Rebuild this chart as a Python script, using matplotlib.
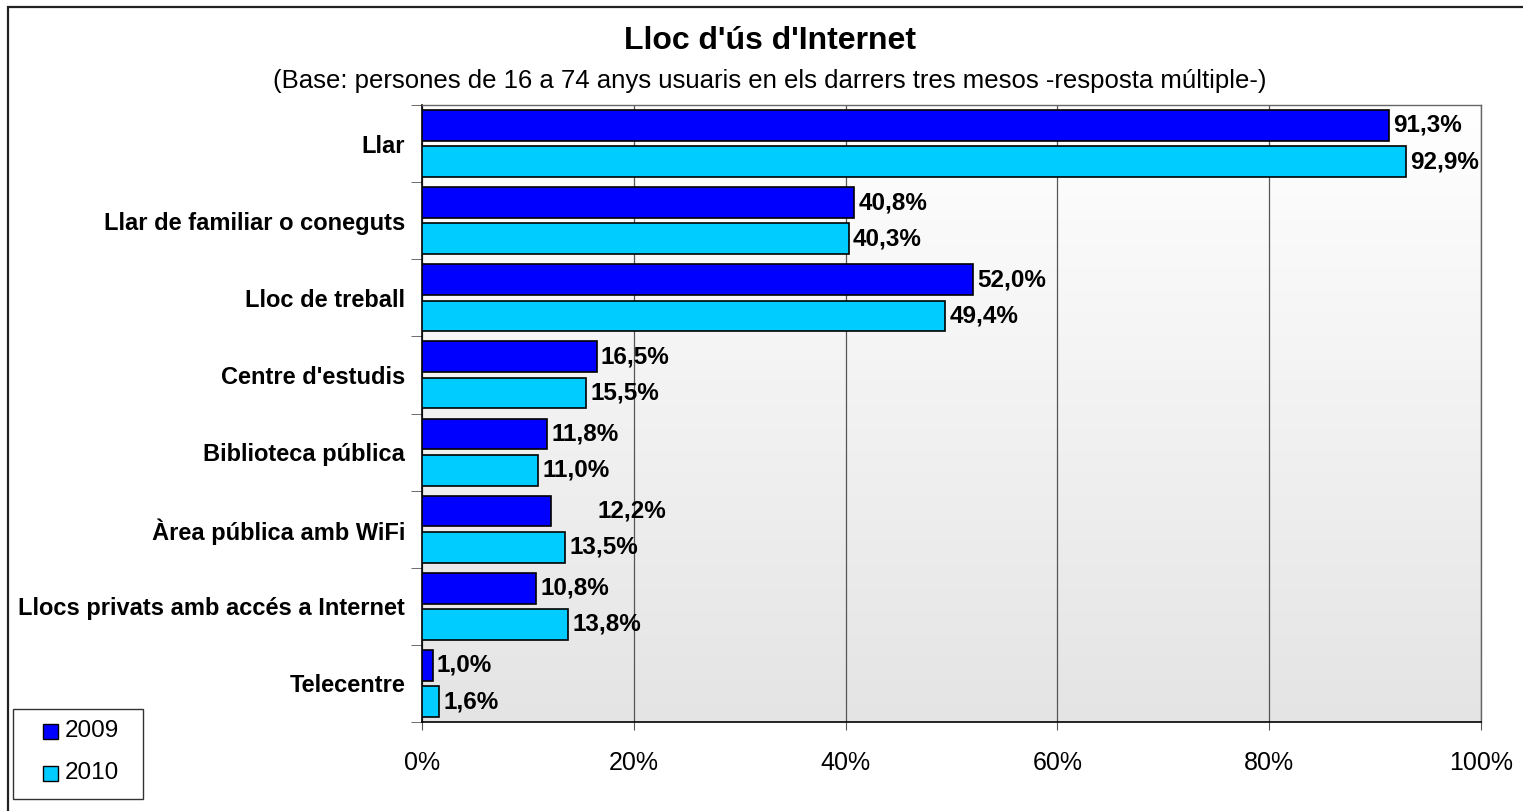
import matplotlib.pyplot as plt
import numpy as np
from matplotlib.patches import Rectangle

plt.rcParams['font.family'] = ['Liberation Sans', 'DejaVu Sans']

# Data
categories = ['Llar', 'Llar de familiar o coneguts', 'Lloc de treball', "Centre d'estudis",
              'Biblioteca pública', 'Àrea pública amb WiFi',
              'Llocs privats amb accés a Internet', 'Telecentre']
years = ['2009', '2010']
values_2009 = [91.3, 40.8, 52.0, 16.5, 11.8, 12.2, 10.8, 1.0]
values_2010 = [92.9, 40.3, 49.4, 15.5, 11.0, 13.5, 13.8, 1.6]
colors = ['#0000FF', '#00CCFF']

W, H = 1523, 811
fig = plt.figure(figsize=(W / 100, H / 100), dpi=100)

# outer frame (only top/left visible in the original)
fig.patches.append(Rectangle((8 / W, -0.01), 1.2, 1 - 7 / H + 0.01, transform=fig.transFigure,
                             fill=False, edgecolor='#222222', linewidth=1.6))

ax = fig.add_axes([422 / W, 1 - 722 / H, (1481 - 422) / W, (722 - 105) / H])

n = len(categories)
ypos = np.arange(n)
h = 0.40
off = 0.235

# background gradient
grad = np.linspace(1.0, 0.895, 256).reshape(-1, 1)
ax.imshow(np.dstack([grad, grad, grad]), extent=[0, 100, n - 0.5, -0.5], aspect='auto',
          zorder=0, interpolation='bilinear')

ax.barh(ypos - off, values_2009, height=h, color=colors[0], edgecolor='black', linewidth=1.2, zorder=3)
ax.barh(ypos + off, values_2010, height=h, color=colors[1], edgecolor='black', linewidth=1.2, zorder=3)

fs = 17.5
for i in range(n):
    extra = 4.0 if categories[i] == 'Àrea pública amb WiFi' else 0
    ax.text(values_2009[i] + 0.4 + extra, i - off, f'{values_2009[i]:.1f}%'.replace('.', ','),
            va='center', ha='left', fontsize=fs, fontweight='bold', zorder=4)
    ax.text(values_2010[i] + 0.4, i + off, f'{values_2010[i]:.1f}%'.replace('.', ','),
            va='center', ha='left', fontsize=fs, fontweight='bold', zorder=4)

ax.set_xlim(0, 100)
ax.set_ylim(n - 0.5, -0.5)
ax.set_xticks([0, 20, 40, 60, 80, 100])
ax.set_xticklabels([f'{t}%' for t in [0, 20, 40, 60, 80, 100]], fontsize=18)
ax.tick_params(axis='x', length=6, color='#555555', pad=15)
ax.set_yticks(ypos)
ax.set_yticklabels(categories, fontsize=17, fontweight='bold')
ax.tick_params(axis='y', length=0, pad=12)
ax.set_yticks(np.arange(n + 1) - 0.5, minor=True)
ax.tick_params(axis='y', which='minor', length=8, color='#555555')

ax.grid(axis='x', color='#555555', linewidth=0.9, zorder=1)
for s in ['left', 'bottom']:
    ax.spines[s].set_color('black')
    ax.spines[s].set_linewidth(1.2)
for s in ['top', 'right']:
    ax.spines[s].set_color('#666666')
    ax.spines[s].set_linewidth(1.0)

fig.text(770 / W, 1 - 41 / H, "Lloc d'ús d'Internet", ha='center', va='center',
         fontsize=23, fontweight='bold')
fig.text(770 / W, 1 - 81 / H,
         '(Base: persones de 16 a 74 anys usuaris en els darrers tres mesos -resposta múltiple-)',
         ha='center', va='center', fontsize=18.5)

# legend box
fig.patches.append(Rectangle((13 / W, 1 - 799 / H), 130 / W, 90 / H, transform=fig.transFigure,
                             facecolor='white', edgecolor='#333333', linewidth=1.0))
for k, (c, y) in enumerate(zip(colors, years)):
    yc = 731 + 42 * k
    fig.patches.append(Rectangle((43 / W, 1 - (yc + 8) / H), 15 / W, 15 / H,
                                 transform=fig.transFigure, facecolor=c,
                                 edgecolor='black', linewidth=1.0))
    fig.text(65 / W, 1 - yc / H, y, ha='left', va='center', fontsize=17.5)

fig.savefig('out.png', dpi=100)
